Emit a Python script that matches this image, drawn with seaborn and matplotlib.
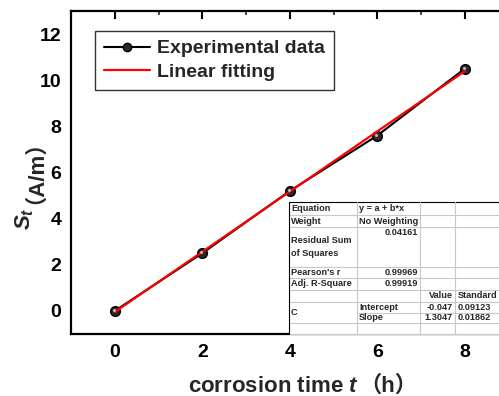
import matplotlib
matplotlib.use("Agg")
import matplotlib.pyplot as plt
import matplotlib.transforms as mtrans
import seaborn as sns
import numpy as np
import pandas as pd
from matplotlib.lines import Line2D

# ---- data ----
time_h = [0, 2, 4, 6, 8]
st_exp = [0.0, 2.5, 5.2, 7.6, 10.5]
intercept = -0.047
slope = 1.3047
st_fit = [intercept + slope * t for t in time_h]

x_ticks = [0, 2, 4, 6, 8]
y_ticks = [0, 2, 4, 6, 8, 10, 12]

table_rows = [
    ["Equation", "y = a + b*x", "", ""],
    ["Weight", "No Weighting", "", ""],
    ["Residual Sum\nof Squares", "0.04161", "", ""],
    ["Pearson's r", "0.99969", "", ""],
    ["Adj. R-Square", "0.99919", "", ""],
    ["", "", "Value", "Standard"],
    ["C", "Intercept", "-0.047", "0.09123"],
    ["", "Slope", "1.3047", "0.01862"],
]

sns.set_theme(style="white")
plt.rcParams['font.family'] = ['Liberation Sans', 'Noto Sans CJK SC']
plt.rcParams['font.weight'] = 'bold'
plt.rcParams['mathtext.fontset'] = 'custom'
plt.rcParams['mathtext.rm'] = 'Liberation Sans:bold'
plt.rcParams['mathtext.bf'] = 'Liberation Sans:bold'
plt.rcParams['mathtext.it'] = 'Liberation Sans:italic:bold'

W, H = 499, 396
fig = plt.figure(figsize=(W / 100, H / 100), dpi=100)
ax = fig.add_axes([71 / W, 62 / H, 437.5 / W, 323 / H])

df = pd.DataFrame({"t": time_h, "exp": st_exp, "fit": st_fit})
sns.lineplot(data=df, x="t", y="exp", ax=ax, color="black", lw=1.5,
             marker="o", markersize=7, markerfacecolor="#2a2a2a",
             markeredgecolor="black", markeredgewidth=1.0,
             label="Experimental data")
ax.plot(time_h, st_exp, ls="none", marker="o", markersize=2.2,
        markerfacecolor="#bbbbbb", markeredgecolor="none",
        transform=ax.transData + mtrans.ScaledTranslation(-1.2 / 100, 1.0 / 100, fig.dpi_scale_trans),
        zorder=3)
sns.lineplot(data=df, x="t", y="fit", ax=ax, color="red", lw=1.6,
             label="Linear fitting")

ax.set_xlim(-1, 9)
ax.set_ylim(-1, 13)
ax.set_xticks(x_ticks)
ax.set_yticks(y_ticks)
ax.set_xticks(np.arange(-1, 10, 1), minor=True)
ax.set_yticks(np.arange(-1, 14, 1), minor=True)
ax.tick_params(which="major", direction="in", length=6, width=1.5,
               top=True, labelsize=14, pad=7, colors="black")
ax.tick_params(which="minor", direction="in", length=3, width=1.2, top=True)
ax.tick_params(axis="y", which="both", right=False)
for lbl in ax.get_xticklabels() + ax.get_yticklabels():
    lbl.set_fontweight("bold")
for s in ax.spines.values():
    s.set_linewidth(1.6)
    s.set_color("black")
ax.set_xlabel("")
ax.set_ylabel("")

leg = ax.legend(loc="upper left", bbox_to_anchor=((95 - 71) / 437.5, (334 - 31) / 323),
                borderaxespad=0, fontsize=14, frameon=True, fancybox=False,
                handlelength=2.4, borderpad=0.45, labelspacing=0.3, handletextpad=0.35)
leg.get_frame().set_edgecolor("black")
leg.get_frame().set_linewidth(1.0)
for t in leg.get_texts():
    t.set_fontweight("bold")
for h in leg.legend_handles:
    if h.get_marker() == "o":
        h.set_markersize(6)

# axis labels (pieces chained so the full-width brackets use the CJK font)
lab_fs = 16
t1 = fig.text(188 / W, 1 - 392 / H, "corrosion time $t$", fontsize=lab_fs,
              fontweight="bold", ha="left", va="baseline")
y1 = fig.text(30 / W, 1 - 230 / H, "$S_t$", fontsize=lab_fs, fontweight="bold",
              rotation=90, rotation_mode="anchor", ha="left", va="baseline")
fig.canvas.draw()
r = fig.canvas.get_renderer()
bb = t1.get_window_extent(r)
fig.text(bb.x1 / W, 1 - 392 / H, "（h）", fontsize=lab_fs, fontweight="bold",
         ha="left", va="baseline")
bb2 = y1.get_window_extent(r)
fig.text(30 / W, (bb2.y1 + 3) / H, "（A/m）", fontsize=lab_fs, fontweight="bold",
         rotation=90, rotation_mode="anchor", ha="left", va="baseline")

# ---- stats table (pixel layout) ----
col_x = [289, 357, 420, 455, 520]
row_y = [202, 215, 227, 267, 278, 290, 302, 313, 323, 334]
def fx(px):
    return px / W
def fy(py):
    return 1 - py / H

fig.add_artist(plt.Rectangle((fx(289), fy(334)), fx(520) - fx(289), (334 - 202) / H,
                             transform=fig.transFigure, facecolor="white",
                             edgecolor="none", zorder=5))
grid_c = "#c8c8c8"
for i, yy in enumerate(row_y):
    x0 = 357 if i == 7 else 289
    c = "black" if i == 0 else grid_c
    fig.add_artist(Line2D([fx(x0), fx(520)], [fy(yy), fy(yy)], color=c, lw=0.8, zorder=6))
for j, xx in enumerate(col_x[:-1]):
    c = "black" if j == 0 else grid_c
    fig.add_artist(Line2D([fx(xx), fx(xx)], [fy(202), fy(334)], color=c, lw=0.8, zorder=6))

fs = 6.6
for ri, row in enumerate(table_rows):
    top, bot = row_y[ri], row_y[ri + 1]
    for c, txt in enumerate(row):
        if not txt:
            continue
        if c == 0:
            yc = (top + row_y[8]) / 2 if ri == 6 else (top + bot) / 2
            fig.text(fx(col_x[0] + 2), fy(yc), txt, fontsize=fs, fontweight="bold",
                     ha="left", va="center", zorder=7, linespacing=1.7)
        elif ri in (2, 3, 4) and c == 1:
            yy = top + 6 if ri == 2 else (top + bot) / 2
            fig.text(fx(col_x[2] - 2), fy(yy), txt, fontsize=fs, fontweight="bold",
                     ha="right", va="center", zorder=7)
        elif c == 1:
            fig.text(fx(col_x[1] + 2), fy((top + bot) / 2), txt, fontsize=fs,
                     fontweight="bold", ha="left", va="center", zorder=7)
        elif c == 2:
            fig.text(fx(col_x[3] - 2), fy((top + bot) / 2), txt, fontsize=fs,
                     fontweight="bold", ha="right", va="center", zorder=7)
        else:
            fig.text(fx(458), fy((top + bot) / 2), txt, fontsize=fs,
                     fontweight="bold", ha="left", va="center", zorder=7)

fig.savefig("out.png", dpi=100)
